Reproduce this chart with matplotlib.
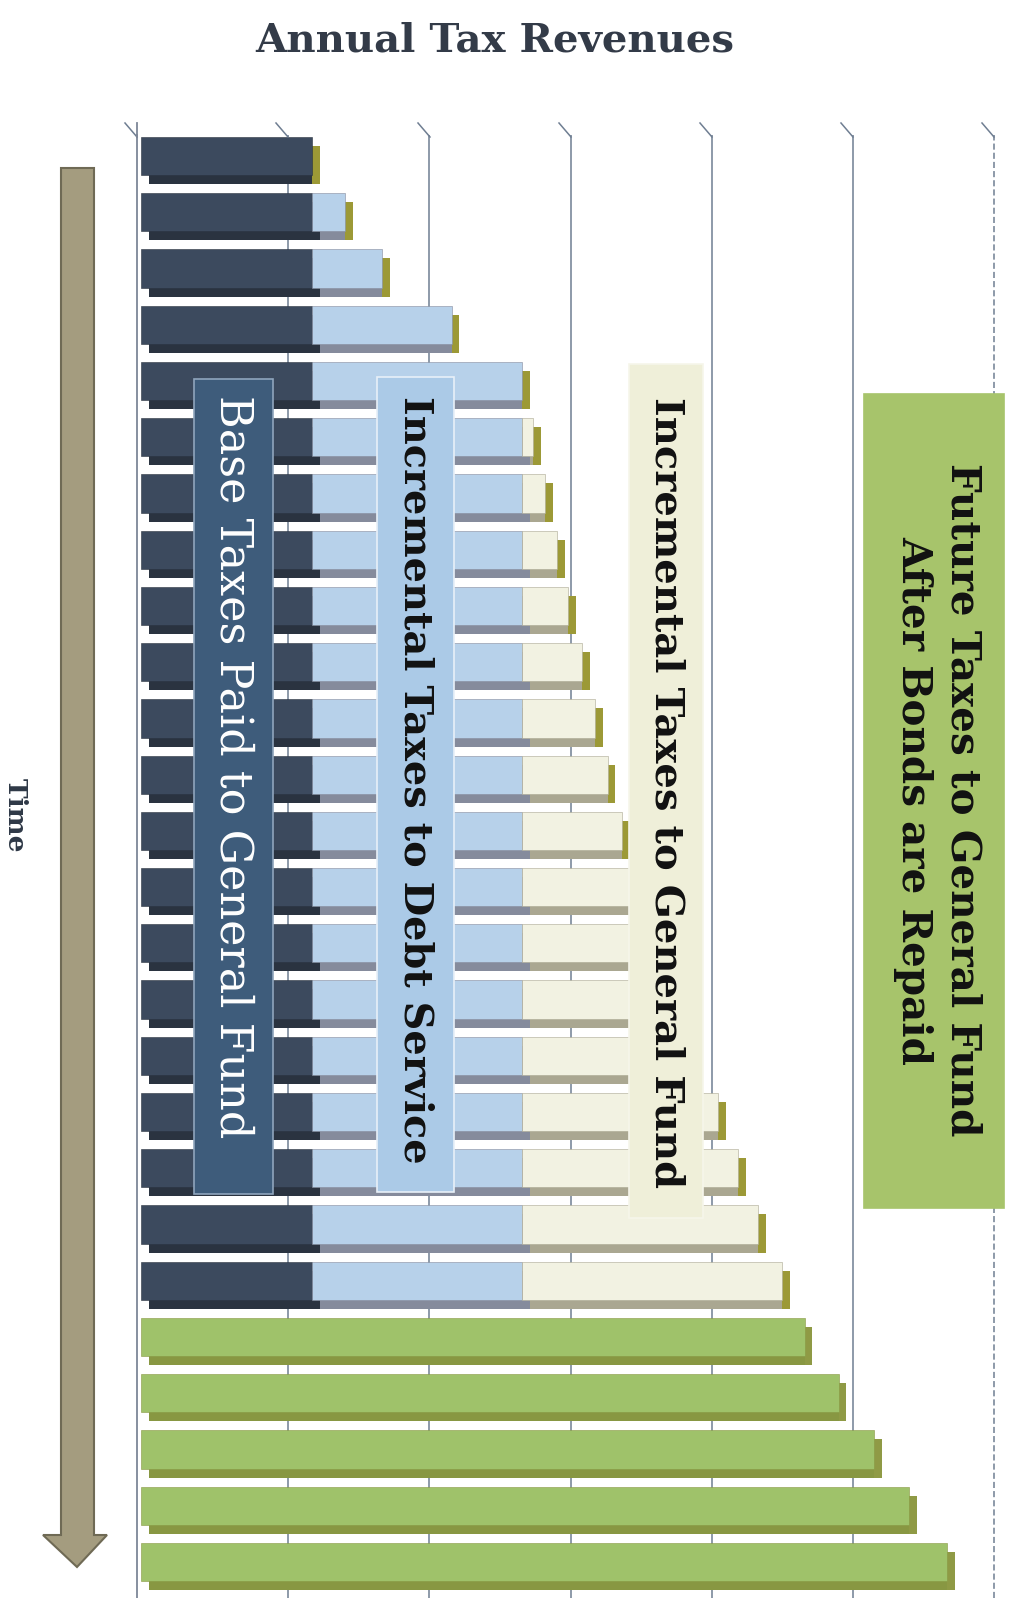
import matplotlib
matplotlib.use("Agg")
import matplotlib.pyplot as plt
from matplotlib.patches import Rectangle, Polygon
from matplotlib.transforms import offset_copy
import numpy as np

# values (one gridline step = 10)
periods = list(range(1, 27))
base_taxes = [12.1, 12.1, 12.1, 12.1, 12.1, 12.1, 12.1, 12.1, 12.1, 12.1, 12.1,
              12.1, 12.1, 12.1, 12.1, 12.1, 12.1, 12.1, 12.1, 12.1, 12.1,
              0, 0, 0, 0, 0]
debt_service = [0, 2.35, 5.0, 9.9, 14.9, 14.9, 14.9, 14.9, 14.9, 14.9, 14.9,
                14.9, 14.9, 14.9, 14.9, 14.9, 14.9, 14.9, 14.9, 14.9, 14.9,
                0, 0, 0, 0, 0]
general_fund = [0, 0, 0, 0, 0, 0.75, 1.6, 2.45, 3.25, 4.25, 5.15,
                6.05, 7.05, 8.05, 9.2, 10.45, 12.0, 13.85, 15.3, 16.7, 18.4,
                0, 0, 0, 0, 0]
future_taxes = [0, 0, 0, 0, 0, 0, 0, 0, 0, 0, 0,
                0, 0, 0, 0, 0, 0, 0, 0, 0, 0,
                47.0, 49.4, 51.9, 54.4, 57.1]
gridlines = [0, 10, 20, 30, 40, 50, 60]

series = [
    (base_taxes, "#3c4a5e", "#2a3340"),
    (debt_service, "#b7d1ea", "#858b9c"),
    (general_fund, "#f2f2e2", "#aaa791"),
    (future_taxes, "#9fc26a", "#889742"),
]

W, H = 1013, 1598
fig = plt.figure(figsize=(W / 100, H / 100), dpi=100)
fig.patch.set_facecolor("white")

ax = fig.add_axes([137 / W, 0, (1000 - 137) / W, 1 - 135 / H])
unit_px = 14.12
row_px = 56.24
ax.set_xlim((137 - 141) / unit_px, (1000 - 141) / unit_px)
ax.set_ylim((H - 156) / row_px, (135 - 156) / row_px)
ax.set_xticks([])
ax.set_yticks([])
for s in ["top", "right", "bottom"]:
    ax.spines[s].set_visible(False)
ax.spines["left"].set_color("#7d8797")
ax.spines["left"].set_linewidth(1.3)

# back-wall gridlines, shifted a little right like the 3d original
grid_tr = offset_copy(ax.get_xaxis_transform(), fig=fig, x=6, y=0, units="dots")
for g in gridlines[1:]:
    ls = (0, (4, 2)) if g == gridlines[-1] else "-"
    ax.plot([g, g], [0, 1], transform=grid_tr, color="#6f7e92", lw=1.1,
            ls=ls, zorder=0)

y = np.array(periods) - 1
h = 0.68
dx = 0.55
dy = 0.16

lefts = np.zeros(len(y))
for vals, face, shade in series:
    v = np.array(vals, dtype=float)
    m = v > 0
    ax.barh(y[m] + dy, v[m], left=lefts[m] + dx, height=h, color=shade,
            zorder=2, linewidth=0)
    lefts = lefts + v
totals = lefts.copy()

side_cols = ["#8f9a45" if f > 0 else "#9c9936" for f in future_taxes]
ax.barh(y + dy, dx, left=totals, height=h, color=side_cols, zorder=3,
        linewidth=0)

lefts = np.zeros(len(y))
for vals, face, shade in series:
    v = np.array(vals, dtype=float)
    m = v > 0
    ax.barh(y[m], v[m], left=lefts[m], height=h, color=face, zorder=4,
            edgecolor=shade, linewidth=0.4)
    lefts = lefts + v

# overlay in pixel coordinates for labels and the time arrow
ov = fig.add_axes([0, 0, 1, 1])
ov.set_xlim(0, W)
ov.set_ylim(H, 0)
ov.axis("off")
ov.patch.set_alpha(0)

for gx in [137, 288, 430, 571, 712, 853, 994]:
    ov.plot([gx - 12, gx], [123, 137], color="#6f7e92", lw=1.1)
ov.plot([137, 137], [123, 137], color="#7d8797", lw=1.3)

ov.text(495, 40, "Annual Tax Revenues", ha="center", va="center",
        fontsize=29, fontweight="bold", family="DejaVu Serif", color="#333b48")

ov.text(15, 815, "Time", ha="center", va="center", rotation=270,
        fontsize=19, fontweight="bold", family="DejaVu Serif", color="#2e3846")

ov.add_patch(Polygon([[61, 168], [94, 168], [94, 1535], [107, 1535], [77, 1567],
                      [43, 1535], [61, 1535]], closed=True,
                     facecolor="#a49c7f", edgecolor="#6f6a55", lw=1.5))

boxes = [
    (194, 379, 273, 1194, "#3e5c7b", "#8fa5bc",
     "Base Taxes Paid to General Fund", "white", "normal", 32, 233, 767),
    (377, 377, 454, 1192, "#abcae7", "#e8f0f8",
     "Incremental Taxes to Debt Service", "#111111", "bold", 28.7, 415, 780),
    (629, 364, 703, 1218, "#efefd9", "#f6f6ea",
     "Incremental Taxes to General Fund", "#111111", "bold", 28.9, 666, 793),
    (864, 394, 1004, 1208, "#a7c46b", "#a7c46b",
     "Future Taxes to General Fund\nAfter Bonds are Repaid", "#111111", "bold",
     29.2, 938, 800),
]
for x0, y0, x1, y1, fc, ec, label, tc, fw, fs, tx, ty in boxes:
    ov.add_patch(Rectangle((x0, y0), x1 - x0, y1 - y0, facecolor=fc,
                           edgecolor=ec, lw=1.2, zorder=5))
    ov.text(tx, ty, label, ha="center", va="center", rotation=270,
            multialignment="center", fontsize=fs, fontweight=fw,
            family="DejaVu Serif", color=tc, zorder=6, linespacing=1.3)

fig.savefig("out.png", dpi=100, facecolor="white")
